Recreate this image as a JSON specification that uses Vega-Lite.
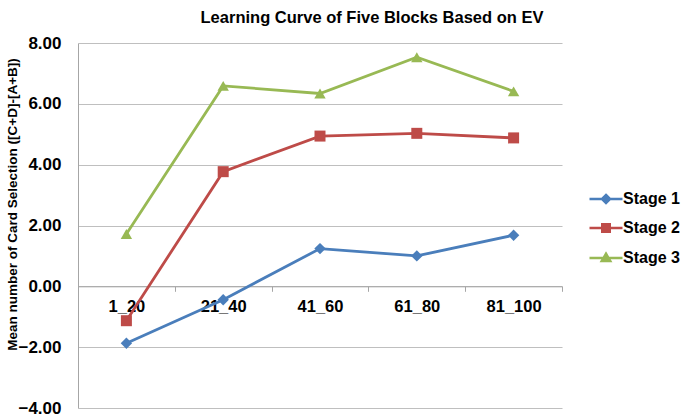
{
  "$schema": "https://vega.github.io/schema/vega-lite/v6.json",
  "width": 484,
  "height": 365,
  "autosize": {"type": "none"},
  "padding": {"left": 78, "top": 43, "right": 124, "bottom": 11},
  "background": "white",
  "title": {
    "text": "Learning Curve of Five Blocks Based on EV",
    "fontSize": 16.5,
    "font": "Liberation Sans",
    "fontWeight": "bold",
    "color": "black",
    "anchor": "middle",
    "dx": 52,
    "offset": 8
  },
  "data": {
    "values": [
      {"Block": "1_20", "Stage": "Stage 1", "Mean": -1.87},
      {"Block": "21_40", "Stage": "Stage 1", "Mean": -0.44},
      {"Block": "41_60", "Stage": "Stage 1", "Mean": 1.24},
      {"Block": "61_80", "Stage": "Stage 1", "Mean": 1.0},
      {"Block": "81_100", "Stage": "Stage 1", "Mean": 1.68},
      {"Block": "1_20", "Stage": "Stage 2", "Mean": -1.13},
      {"Block": "21_40", "Stage": "Stage 2", "Mean": 3.77},
      {"Block": "41_60", "Stage": "Stage 2", "Mean": 4.94},
      {"Block": "61_80", "Stage": "Stage 2", "Mean": 5.03},
      {"Block": "81_100", "Stage": "Stage 2", "Mean": 4.88},
      {"Block": "1_20", "Stage": "Stage 3", "Mean": 1.72},
      {"Block": "21_40", "Stage": "Stage 3", "Mean": 6.59},
      {"Block": "41_60", "Stage": "Stage 3", "Mean": 6.34},
      {"Block": "61_80", "Stage": "Stage 3", "Mean": 7.53},
      {"Block": "81_100", "Stage": "Stage 3", "Mean": 6.41}
    ]
  },
  "encoding": {
    "x": {
      "field": "Block",
      "type": "ordinal",
      "sort": ["1_20", "21_40", "41_60", "61_80", "81_100"],
      "bandPosition": 0.5,
      "scale": {"type": "band", "paddingInner": 0, "paddingOuter": 0},
      "axis": {
        "title": null,
        "labelAngle": 0,
        "offset": -121.7,
        "tickBand": "extent",
        "grid": false,
        "domainColor": "#A6A6A6",
        "tickColor": "#A6A6A6",
        "tickSize": 5,
        "labelPadding": 7,
        "labelFontSize": 16.5,
        "labelFont": "Liberation Sans",
        "labelFontWeight": "bold",
        "labelColor": "black"
      }
    },
    "y": {
      "field": "Mean",
      "type": "quantitative",
      "scale": {"domain": [-4, 8], "nice": false},
      "axis": {
        "title": "Mean number of Card Selection ([C+D]-[A+B])",
        "titleFontSize": 13.5,
        "titleFont": "Liberation Sans",
        "titleFontWeight": "bold",
        "titleColor": "black",
        "titlePadding": -1.5,
        "titleY": 161,
        "values": [-4, -2, 0, 2, 4, 6, 8],
        "format": ".2f",
        "ticks": false,
        "labelPadding": 17,
        "labelFontSize": 17,
        "labelFont": "Liberation Sans",
        "labelFontWeight": "bold",
        "labelColor": "black",
        "domainColor": "#A6A6A6",
        "gridColor": "#BFBFBF",
        "gridWidth": 1.2
      }
    },
    "color": {
      "field": "Stage",
      "type": "nominal",
      "scale": {
        "domain": ["Stage 1", "Stage 2", "Stage 3"],
        "range": ["#4A7EBB", "#BE4B48", "#98B954"]
      },
      "legend": {
        "title": null,
        "orient": "none",
        "legendX": 520,
        "legendY": 148,
        "padding": 0,
        "symbolSize": 100,
        "labelOffset": 9,
        "rowPadding": 11,
        "labelFontSize": 16,
        "labelFont": "Liberation Sans",
        "labelFontWeight": "bold",
        "labelColor": "black",
        "encode": {
          "symbols": {
            "update": {
              "shape": {
                "signal": "datum.value === 'Stage 1' ? 'M-3.3,0H3.3M0,-0.8L0.8,0L0,0.8L-0.8,0Z' : datum.value === 'Stage 2' ? 'M-3.3,0H3.3M-0.75,-0.75H0.75V0.75H-0.75Z' : 'M-3.3,0H3.3M0,-0.85L0.85,0.6L-0.85,0.6Z'"
              },
              "fill": {"scale": "color", "field": "value"},
              "stroke": {"scale": "color", "field": "value"},
              "strokeWidth": {"value": 2.5},
              "opacity": {"value": 1}
            }
          }
        }
      }
    }
  },
  "layer": [
    {
      "mark": {"type": "line", "strokeWidth": 2.8}
    },
    {
      "transform": [{"filter": "datum.Stage === 'Stage 1'"}],
      "mark": {"type": "point", "shape": "diamond", "filled": true, "opacity": 1, "size": 130}
    },
    {
      "transform": [{"filter": "datum.Stage === 'Stage 2'"}],
      "mark": {"type": "point", "shape": "square", "filled": true, "opacity": 1, "size": 121}
    },
    {
      "transform": [{"filter": "datum.Stage === 'Stage 3'"}],
      "mark": {"type": "point", "shape": "triangle-up", "filled": true, "opacity": 1, "size": 130}
    }
  ],
  "config": {
    "view": {"stroke": null},
    "font": "Liberation Sans"
  }
}
